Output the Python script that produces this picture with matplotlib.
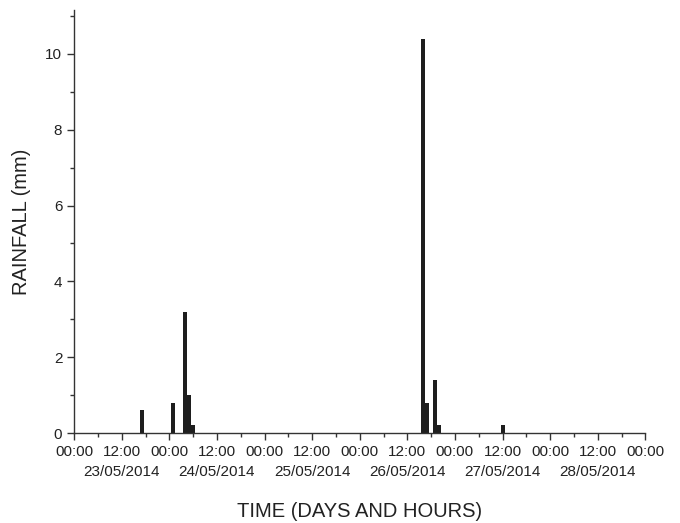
import matplotlib.pyplot as plt
from matplotlib.ticker import MultipleLocator
from matplotlib.transforms import blended_transform_factory

# Hourly rainfall (hours since 00:00 23/05/2014)
hours = [17, 25, 28, 29, 30, 88, 89, 91, 92, 108]
rain_mm = [0.6, 0.8, 3.2, 1.0, 0.2, 10.4, 0.8, 1.4, 0.2, 0.2]

dates = ['23/05/2014', '24/05/2014', '25/05/2014', '26/05/2014',
         '27/05/2014', '28/05/2014']

plt.rcParams['font.family'] = ['Liberation Sans', 'DejaVu Sans']

fig = plt.figure(figsize=(6.8, 5.23), dpi=100)
ax = fig.add_axes([0.109, 0.172, 0.840, 0.809])

ax.bar(hours, rain_mm, width=1.0, color='#1e1e1e', align='center')

ax.set_xlim(0, 144)
ax.set_ylim(0, 11.16)

# x ticks: labels every 12 h, minor every 6 h
major = list(range(0, 145, 12))
labels = ['00:00' if h % 24 == 0 else '12:00' for h in major]
ax.set_xticks(major)
ax.set_xticklabels(labels, fontsize=11, color='#222222')
ax.xaxis.set_minor_locator(MultipleLocator(6))

# date line under the 12:00 labels
trans = blended_transform_factory(ax.transData, ax.transAxes)
for i, d in enumerate(dates):
    ax.text(24 * i + 12, -0.092, d, transform=trans, ha='center', va='center',
            fontsize=11, color='#222222')

ax.yaxis.set_major_locator(MultipleLocator(2))
ax.yaxis.set_minor_locator(MultipleLocator(1))
ax.tick_params(axis='y', labelsize=11, labelcolor='#222222')

ax.tick_params(which='major', direction='out', length=5, width=1, color='#333333')
ax.tick_params(which='minor', direction='out', length=3, width=1, color='#333333')

for s in ['top', 'right']:
    ax.spines[s].set_visible(False)
for s in ['left', 'bottom']:
    ax.spines[s].set_color('#333333')
    ax.spines[s].set_linewidth(1)

ax.set_xlabel('TIME (DAYS AND HOURS)', fontsize=14.5, color='#222222')
ax.xaxis.set_label_coords(0.5, -0.185)
ax.xaxis.label.set_va('center')
ax.set_ylabel('RAINFALL (mm)', fontsize=14.5, labelpad=10, color='#222222')

plt.savefig('out.png', dpi=100)
